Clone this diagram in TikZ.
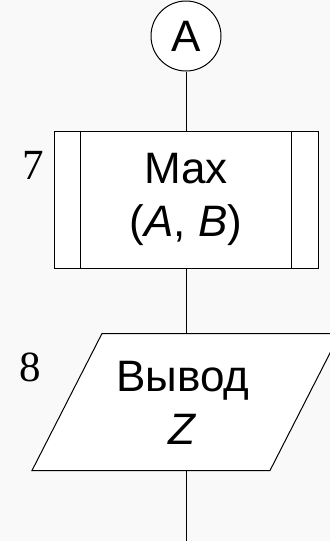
\documentclass[tikz,border=0pt]{standalone}
\usepackage{fontspec}
\setmainfont{Liberation Sans}
\newfontfamily\numfont{Liberation Serif}
\usetikzlibrary{calc}

\begin{document}
\begin{tikzpicture}[x=0.5pt,y=-0.5pt,line width=0.5pt]
\tikzstyle{every node}+=[inner sep=0pt]
\tikzstyle{blk}=[font=\fontsize{22}{26.5}\selectfont, align=center]
\tikzstyle{num}=[font=\numfont\fontsize{21.5}{24}\selectfont]
% page
\fill [gray!5] (0,0) rectangle (330,541);
\clip (0,0) rectangle (330,541);
% connector A
\node [draw, circle, fill=white, minimum size=35pt, blk] (conA) at (186,36) {A};
% block 7: predefined process
\node [draw, fill=white, minimum width=132pt, minimum height=68.5pt, blk] (maxAB) at (186,199.5) {Max\\(\textit{A}, \textit{B})};
\draw ($(maxAB.north west)+(27,0)$) -- ($(maxAB.south west)+(27,0)$);
\draw ($(maxAB.north east)+(-27,0)$) -- ($(maxAB.south east)+(-27,0)$);
\node [num] (n7) at (33,165) {7};
% block 8: output
\node [minimum width=110pt, minimum height=68pt] (outZ) at (186,402) {};
\filldraw [fill=white] ($(outZ.north)+(-84,0)$) -- ($(outZ.north)+(154,0)$) -- ($(outZ.south)+(84,0)$) -- ($(outZ.south)+(-154,0)$) -- cycle;
\node [blk] (outT) at (183,403) {Вывод\\\textit{Z}};
\node [num] (n8) at (30,367) {8};
\coordinate (tail) at (186,541);
% flow lines
\draw (conA) -- (maxAB);
\draw (maxAB) -- (outZ);
\draw (outZ) -- (tail);
\end{tikzpicture}
\end{document}
